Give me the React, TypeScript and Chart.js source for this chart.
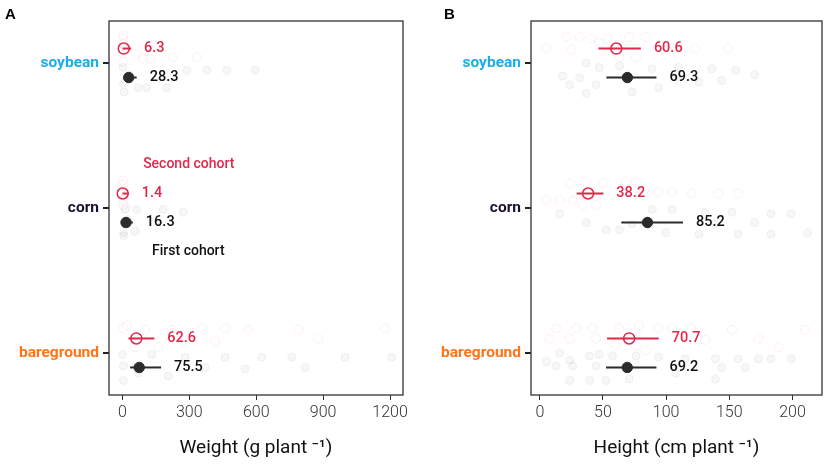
import { useEffect, useRef } from "react";
import { Chart, registerables } from "chart.js";

Chart.register(...registerables);

// categories from bottom to top of each panel
const categories = ["bareground", "corn", "soybean"];
const categoryColors = ["#ff7417", "#1c1030", "#1bade8"];
const categoryPos = [1, 2, 3];

const weightTicks = [0, 300, 600, 900, 1200];
const heightTicks = [0, 50, 100, 150, 200];

// means and interval ends, in category order (bareground, corn, soybean)
const weightFirstMean = [75.5, 16.3, 28.3];
const weightFirstLow = [34.5, 5, 6];
const weightFirstHigh = [173.5, 47, 64];
const weightSecondMean = [62.6, 1.4, 6.3];
const weightSecondLow = [27, 0.3, 1];
const weightSecondHigh = [143, 29, 39];

const heightFirstMean = [69.2, 85.2, 69.3];
const heightFirstLow = [52.4, 64.5, 52.7];
const heightFirstHigh = [92.3, 113.3, 92.3];
const heightSecondMean = [70.7, 38.2, 60.6];
const heightSecondLow = [53.2, 29.1, 46.4];
const heightSecondHigh = [94.1, 50.3, 80.0];

// single plants: [category, value, vertical jitter]
type Raw = [string, number, number];

const weightSecondRaw: Raw[] = [
  ["soybean", 4, 0.19], ["soybean", 3, 0.17], ["soybean", 5, 0.13], ["soybean", 2, 0.01],
  ["soybean", 93, 0.03], ["soybean", 124, 0.03], ["soybean", 228, 0.04], ["soybean", 333, 0.04],
  ["soybean", 60, 0.06],
  ["corn", 3, 0.19], ["corn", 2, 0.16], ["corn", 4, 0.12], ["corn", 2, 0.055], ["corn", 5, 0.02],
  ["corn", 15, 0.0],
  ["bareground", 4.5, 0.17], ["bareground", 102, 0.16], ["bareground", 221, 0.16],
  ["bareground", 356, 0.17], ["bareground", 460, 0.17], ["bareground", 565, 0.16],
  ["bareground", 789, 0.16], ["bareground", 1177, 0.17], ["bareground", 57, 0.04],
  ["bareground", 161, 0.04], ["bareground", 281, 0.08], ["bareground", 415, 0.08],
  ["bareground", 877, 0.1], ["bareground", 20, 0.19],
];

const weightFirstRaw: Raw[] = [
  ["soybean", 3, -0.03], ["soybean", 5, -0.14], ["soybean", 70, -0.17], ["soybean", 109, -0.17],
  ["soybean", 8, -0.2], ["soybean", 199, -0.17], ["soybean", 289, -0.05], ["soybean", 378, -0.05],
  ["soybean", 468, -0.05], ["soybean", 595, -0.05], ["soybean", 30, -0.08],
  ["corn", 12, -0.01], ["corn", 64, -0.01], ["corn", 183, -0.01], ["corn", 273, -0.03],
  ["corn", 5, -0.17], ["corn", 57, -0.16], ["corn", 6, -0.19], ["corn", 25, -0.08],
  ["bareground", 0, -0.01], ["bareground", 4.5, -0.09], ["bareground", 4.5, -0.19],
  ["bareground", 132, -0.01], ["bareground", 281, -0.03], ["bareground", 460, -0.03],
  ["bareground", 625, -0.03], ["bareground", 759, -0.03], ["bareground", 998, -0.03],
  ["bareground", 1207, -0.03], ["bareground", 206, -0.16], ["bareground", 371, -0.1],
  ["bareground", 550, -0.11], ["bareground", 819, -0.1], ["bareground", 72, -0.14],
];

const heightSecondRaw: Raw[] = [
  ["soybean", 21, 0.18], ["soybean", 31.5, 0.18], ["soybean", 40.6, 0.17], ["soybean", 53.5, 0.17],
  ["soybean", 70.8, 0.18], ["soybean", 84, 0.18], ["soybean", 5.3, 0.1], ["soybean", 25, 0.09],
  ["soybean", 123, 0.1], ["soybean", 149, 0.1], ["soybean", 76, 0.04], ["soybean", 47, 0.14],
  ["soybean", 63, 0.04],
  ["corn", 23.6, 0.17], ["corn", 36.7, 0.18], ["corn", 49.8, 0.17], ["corn", 68, 0.18],
  ["corn", 76, 0.18], ["corn", 5.3, 0.055], ["corn", 15.7, 0.055], ["corn", 26, 0.05],
  ["corn", 94, 0.11], ["corn", 104.7, 0.11], ["corn", 120, 0.1], ["corn", 157, 0.1],
  ["corn", 141.5, 0.1], ["corn", 34, 0.02], ["corn", 44.6, 0.02],
  ["bareground", 13, 0.17], ["bareground", 29, 0.17], ["bareground", 41.8, 0.17],
  ["bareground", 63, 0.17], ["bareground", 78.6, 0.19], ["bareground", 94, 0.17],
  ["bareground", 120, 0.17], ["bareground", 152, 0.16], ["bareground", 210, 0.16],
  ["bareground", 7.9, 0.1], ["bareground", 23.6, 0.1], ["bareground", 44.6, 0.1],
  ["bareground", 60, 0.055], ["bareground", 76, 0.05], ["bareground", 84, 0.02],
  ["bareground", 104.7, 0.17], ["bareground", 131, 0.09], ["bareground", 173, 0.1],
  ["bareground", 189, 0.04],
];

const heightFirstRaw: Raw[] = [
  ["soybean", 36.7, 0], ["soybean", 47, -0.03], ["soybean", 63, -0.02], ["soybean", 89, -0.04],
  ["soybean", 110, -0.03], ["soybean", 136, -0.04], ["soybean", 155, -0.05], ["soybean", 18, -0.09],
  ["soybean", 31.5, -0.1], ["soybean", 107.5, -0.1], ["soybean", 126, -0.13], ["soybean", 144, -0.12],
  ["soybean", 23.6, -0.15], ["soybean", 44.6, -0.15], ["soybean", 94, -0.17], ["soybean", 36.7, -0.21],
  ["soybean", 73, -0.2], ["soybean", 170, -0.08],
  ["corn", 15.7, -0.04], ["corn", 36.7, -0.1], ["corn", 52.4, -0.15], ["corn", 63, -0.15],
  ["corn", 89, -0.01], ["corn", 104.7, -0.01], ["corn", 131, -0.03], ["corn", 152, -0.03],
  ["corn", 183, -0.04], ["corn", 199, -0.04], ["corn", 99.6, -0.17], ["corn", 126, -0.18],
  ["corn", 157, -0.18], ["corn", 183, -0.18], ["corn", 212, -0.17], ["corn", 73, -0.11],
  ["corn", 139, -0.11], ["corn", 170, -0.1],
  ["bareground", 5.3, -0.06], ["bareground", 15.7, 0], ["bareground", 23.6, -0.05],
  ["bareground", 39.3, -0.02], ["bareground", 47, -0.01], ["bareground", 57.5, -0.02],
  ["bareground", 76, -0.02], ["bareground", 94, -0.03], ["bareground", 115, -0.04],
  ["bareground", 139, -0.04], ["bareground", 157, -0.04], ["bareground", 173, -0.04],
  ["bareground", 183, -0.04], ["bareground", 199, -0.04], ["bareground", 13, -0.09],
  ["bareground", 26, -0.09], ["bareground", 44.6, -0.09], ["bareground", 144, -0.1],
  ["bareground", 162.6, -0.1], ["bareground", 23.6, -0.19], ["bareground", 39.3, -0.19],
  ["bareground", 52.4, -0.19], ["bareground", 70.8, -0.18], ["bareground", 139, -0.18],
  ["bareground", 107.5, -0.14],
];

// text notes in panel A: [text, x value, y position, colour]
type Note = [string, number, number, string];
const weightNotes: Note[] = [
  ["Second cohort", 93, 2.3, "#e0284a"],
  ["First cohort", 133, 1.7, "#111111"],
];

const RED = "#e0284a";
const DARK = "#2b2b2b";
const SHIFT = 0.1;
const H = 465;
const AREA_TOP = 21;
const AREA_BOTTOM = 395;

interface PanelProps {
  letter: string;
  letterX: number;
  left: number;
  width: number;
  areaLeft: number;
  padRight: number;
  xMin: number;
  xMax: number;
  xTicks: number[];
  xTitle: string;
  firstMean: number[];
  firstLow: number[];
  firstHigh: number[];
  secondMean: number[];
  secondLow: number[];
  secondHigh: number[];
  firstRaw: Raw[];
  secondRaw: Raw[];
  notes: Note[];
}

function Panel(p: PanelProps) {
  const canvasRef = useRef<HTMLCanvasElement>(null);
  const chartRef = useRef<Chart | null>(null);

  useEffect(() => {
    if (!canvasRef.current) return;
    if (chartRef.current) chartRef.current.destroy();
    const ctx = canvasRef.current.getContext("2d");
    if (!ctx) return;

    const pos = (name: string) => categoryPos[categories.indexOf(name)];

    const bars = (low: number[], high: number[], shift: number, color: string) =>
      low.map((lo, i) => ({
        type: "scatter" as const,
        data: [
          { x: lo, y: categoryPos[i] + shift },
          { x: high[i], y: categoryPos[i] + shift },
        ],
        showLine: true,
        borderColor: color,
        borderWidth: 2,
        pointRadius: 0,
        order: 1,
      }));

    const extras = {
      id: "extras",
      afterDatasetsDraw(chart: Chart) {
        const { ctx: c, chartArea: a, scales } = chart;
        const xs = scales.x;
        const ys = scales.y;
        c.save();
        c.strokeStyle = "#333";
        c.lineWidth = 1.3;
        c.strokeRect(a.left, a.top, a.right - a.left, a.bottom - a.top);

        c.font = "500 14.5px Roboto";
        c.textAlign = "left";
        c.textBaseline = "middle";
        p.secondMean.forEach((m, i) => {
          c.fillStyle = RED;
          c.fillText(m.toFixed(1), xs.getPixelForValue(p.secondHigh[i]) + 13, ys.getPixelForValue(categoryPos[i] + SHIFT));
        });
        p.firstMean.forEach((m, i) => {
          c.fillStyle = "#111";
          c.fillText(m.toFixed(1), xs.getPixelForValue(p.firstHigh[i]) + 13, ys.getPixelForValue(categoryPos[i] - SHIFT));
        });
        c.font = "500 14px Roboto";
        p.notes.forEach(([t, x, y, col]) => {
          c.fillStyle = col;
          c.fillText(t, xs.getPixelForValue(x), ys.getPixelForValue(y));
        });

        c.font = "bold 15px 'Liberation Sans'";
        c.fillStyle = "#000";
        c.textBaseline = "alphabetic";
        c.fillText(p.letter, p.letterX, 19);
        c.restore();
      },
    };

    chartRef.current = new Chart(ctx, {
      type: "scatter",
      data: {
        datasets: [
          {
            data: p.secondMean.map((m, i) => ({ x: m, y: categoryPos[i] + SHIFT })),
            pointRadius: 5.5,
            pointBorderWidth: 1.5,
            pointBorderColor: RED,
            pointBackgroundColor: "rgba(0,0,0,0)",
            order: 0,
          },
          {
            data: p.firstMean.map((m, i) => ({ x: m, y: categoryPos[i] - SHIFT })),
            pointRadius: 5.2,
            pointBorderWidth: 1,
            pointBorderColor: DARK,
            pointBackgroundColor: DARK,
            order: 0,
          },
          ...bars(p.secondLow, p.secondHigh, SHIFT, RED),
          ...bars(p.firstLow, p.firstHigh, -SHIFT, DARK),
          {
            data: p.secondRaw.map(([c, v, j]) => ({ x: v, y: pos(c) + j })),
            pointRadius: 4.5,
            pointBorderWidth: 1,
            pointBorderColor: "rgba(224,40,74,0.07)",
            pointBackgroundColor: "rgba(0,0,0,0)",
            order: 2,
          },
          {
            data: p.firstRaw.map(([c, v, j]) => ({ x: v, y: pos(c) + j })),
            pointRadius: 4,
            pointBorderWidth: 1,
            pointBorderColor: "rgba(40,40,40,0.05)",
            pointBackgroundColor: "rgba(40,40,40,0.035)",
            order: 2,
          },
        ],
      },
      options: {
        responsive: false,
        animation: false,
        layout: { padding: { top: AREA_TOP, right: p.padRight, left: 0, bottom: 0 } },
        plugins: { legend: { display: false }, tooltip: { enabled: false } },
        scales: {
          x: {
            type: "linear",
            min: p.xMin,
            max: p.xMax,
            afterBuildTicks: (s) => {
              s.ticks = p.xTicks.map((v) => ({ value: v }));
            },
            afterFit: (s) => {
              s.height = H - AREA_BOTTOM;
            },
            border: { display: false },
            grid: { drawOnChartArea: false, drawTicks: true, tickLength: 5, color: "#333", lineWidth: 1 },
            ticks: {
              color: "#333",
              padding: 3,
              font: { family: "Roboto", size: 16, weight: 300 },
              maxRotation: 0,
              autoSkip: false,
              callback: (v: any) => String(v),
            },
            title: {
              display: true,
              text: p.xTitle,
              color: "#111",
              font: { family: "Roboto", size: 19 },
              padding: { top: 0, bottom: 5 },
            },
          },
          y: {
            type: "linear",
            min: 0.71,
            max: 3.29,
            afterBuildTicks: (s) => {
              s.ticks = categoryPos.map((v) => ({ value: v }));
            },
            afterFit: (s) => {
              s.width = p.areaLeft;
            },
            border: { display: false },
            grid: { drawOnChartArea: false, drawTicks: true, tickLength: 6, color: "#222", lineWidth: 2 },
            ticks: {
              padding: 4,
              autoSkip: false,
              font: { family: "Roboto", size: 15.5, weight: 700 },
              color: (c: any) => categoryColors[categoryPos.indexOf(c.tick?.value)] ?? "#000",
              callback: (v: any) => categories[categoryPos.indexOf(Number(v))] ?? "",
            },
          },
        },
      },
      plugins: [extras],
    });

    return () => {
      if (chartRef.current) {
        chartRef.current.destroy();
        chartRef.current = null;
      }
    };
  }, []);

  return (
    <canvas
      ref={canvasRef}
      width={p.width}
      height={H}
      style={{ position: "absolute", left: p.left, top: 0, width: p.width, height: H }}
    />
  );
}

export default function App() {
  return (
    <div style={{ position: "fixed", left: 0, top: 0, width: 829, height: H, background: "#fff" }}>
      <Panel
        letter="A"
        letterX={5}
        left={0}
        width={412}
        areaLeft={109}
        padRight={9}
        xMin={-60}
        xMax={1258}
        xTicks={weightTicks}
        xTitle="Weight (g plant ⁻¹)"
        firstMean={weightFirstMean}
        firstLow={weightFirstLow}
        firstHigh={weightFirstHigh}
        secondMean={weightSecondMean}
        secondLow={weightSecondLow}
        secondHigh={weightSecondHigh}
        firstRaw={weightFirstRaw}
        secondRaw={weightSecondRaw}
        notes={weightNotes}
      />
      <Panel
        letter="B"
        letterX={32}
        left={412}
        width={417}
        areaLeft={119}
        padRight={5}
        xMin={-7}
        xMax={223.4}
        xTicks={heightTicks}
        xTitle="Height (cm plant ⁻¹)"
        firstMean={heightFirstMean}
        firstLow={heightFirstLow}
        firstHigh={heightFirstHigh}
        secondMean={heightSecondMean}
        secondLow={heightSecondLow}
        secondHigh={heightSecondHigh}
        firstRaw={heightFirstRaw}
        secondRaw={heightSecondRaw}
        notes={[]}
      />
    </div>
  );
}
